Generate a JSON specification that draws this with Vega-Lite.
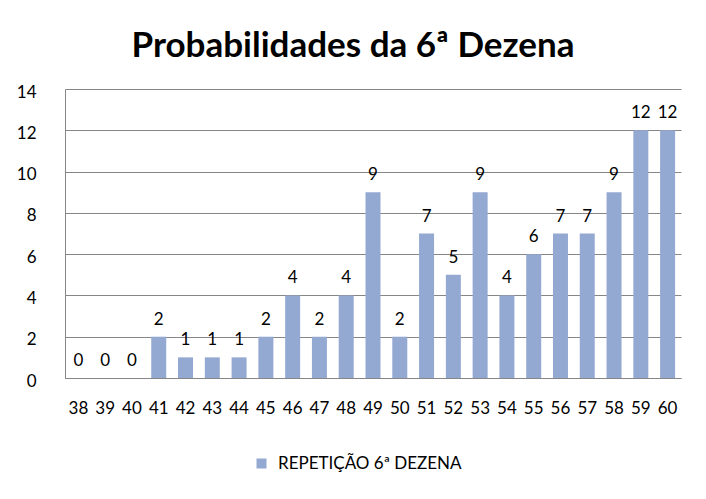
{
  "$schema": "https://vega.github.io/schema/vega-lite/v6.json",
  "width": 616,
  "height": 289,
  "autosize": {"type": "none"},
  "padding": {"left": 65, "top": 89, "right": 25, "bottom": 121},
  "background": "white",
  "title": {
    "text": "Probabilidades da 6ª Dezena",
    "font": "Lato",
    "fontSize": 35,
    "fontWeight": "bold",
    "color": "black",
    "anchor": "middle",
    "baseline": "alphabetic",
    "offset": -9,
    "dx": -20
  },
  "data": {
    "values": [
      {"dezena": "38", "valor": 0, "serie": "REPETIÇÃO 6ª DEZENA"},
      {"dezena": "39", "valor": 0, "serie": "REPETIÇÃO 6ª DEZENA"},
      {"dezena": "40", "valor": 0, "serie": "REPETIÇÃO 6ª DEZENA"},
      {"dezena": "41", "valor": 2, "serie": "REPETIÇÃO 6ª DEZENA"},
      {"dezena": "42", "valor": 1, "serie": "REPETIÇÃO 6ª DEZENA"},
      {"dezena": "43", "valor": 1, "serie": "REPETIÇÃO 6ª DEZENA"},
      {"dezena": "44", "valor": 1, "serie": "REPETIÇÃO 6ª DEZENA"},
      {"dezena": "45", "valor": 2, "serie": "REPETIÇÃO 6ª DEZENA"},
      {"dezena": "46", "valor": 4, "serie": "REPETIÇÃO 6ª DEZENA"},
      {"dezena": "47", "valor": 2, "serie": "REPETIÇÃO 6ª DEZENA"},
      {"dezena": "48", "valor": 4, "serie": "REPETIÇÃO 6ª DEZENA"},
      {"dezena": "49", "valor": 9, "serie": "REPETIÇÃO 6ª DEZENA"},
      {"dezena": "50", "valor": 2, "serie": "REPETIÇÃO 6ª DEZENA"},
      {"dezena": "51", "valor": 7, "serie": "REPETIÇÃO 6ª DEZENA"},
      {"dezena": "52", "valor": 5, "serie": "REPETIÇÃO 6ª DEZENA"},
      {"dezena": "53", "valor": 9, "serie": "REPETIÇÃO 6ª DEZENA"},
      {"dezena": "54", "valor": 4, "serie": "REPETIÇÃO 6ª DEZENA"},
      {"dezena": "55", "valor": 6, "serie": "REPETIÇÃO 6ª DEZENA"},
      {"dezena": "56", "valor": 7, "serie": "REPETIÇÃO 6ª DEZENA"},
      {"dezena": "57", "valor": 7, "serie": "REPETIÇÃO 6ª DEZENA"},
      {"dezena": "58", "valor": 9, "serie": "REPETIÇÃO 6ª DEZENA"},
      {"dezena": "59", "valor": 12, "serie": "REPETIÇÃO 6ª DEZENA"},
      {"dezena": "60", "valor": 12, "serie": "REPETIÇÃO 6ª DEZENA"}
    ]
  },
  "encoding": {
    "x": {
      "field": "dezena",
      "type": "ordinal",
      "sort": null,
      "scale": {"paddingInner": 0.44, "paddingOuter": 0.22},
      "axis": {
        "title": null,
        "labelAngle": 0,
        "labelFont": "Lato",
        "labelFontSize": 17,
        "labelColor": "black",
        "ticks": false,
        "tickSize": 0,
        "labelPadding": 22,
        "domainColor": "#868686",
        "grid": false
      }
    },
    "y": {
      "field": "valor",
      "type": "quantitative",
      "scale": {"domain": [0, 14], "nice": false},
      "axis": {
        "title": null,
        "values": [0, 2, 4, 6, 8, 10, 12, 14],
        "labelFont": "Lato",
        "labelFontSize": 17,
        "labelColor": "black",
        "ticks": false,
        "tickSize": 0,
        "labelPadding": 29,
        "labelOffset": 3,
        "domainColor": "#868686",
        "grid": true,
        "gridColor": "#868686",
        "gridWidth": 1
      }
    }
  },
  "layer": [
    {
      "mark": {"type": "bar"},
      "encoding": {
        "color": {
          "field": "serie",
          "type": "nominal",
          "scale": {"range": ["#94A9D1"]},
          "legend": {
            "title": null,
            "orient": "none",
            "legendX": 188,
            "legendY": 366,
            "symbolType": "square",
            "symbolSize": 100,
            "symbolStrokeWidth": 0,
            "labelFont": "Lato",
            "labelFontSize": 17,
            "labelColor": "black",
            "labelOffset": 8,
            "labelLimit": 400
          }
        }
      }
    },
    {
      "mark": {"type": "text", "baseline": "alphabetic", "dy": -12, "font": "Lato", "fontSize": 17, "color": "black"},
      "encoding": {
        "text": {"field": "valor", "type": "quantitative"}
      }
    }
  ],
  "config": {
    "view": {"stroke": null}
  }
}
